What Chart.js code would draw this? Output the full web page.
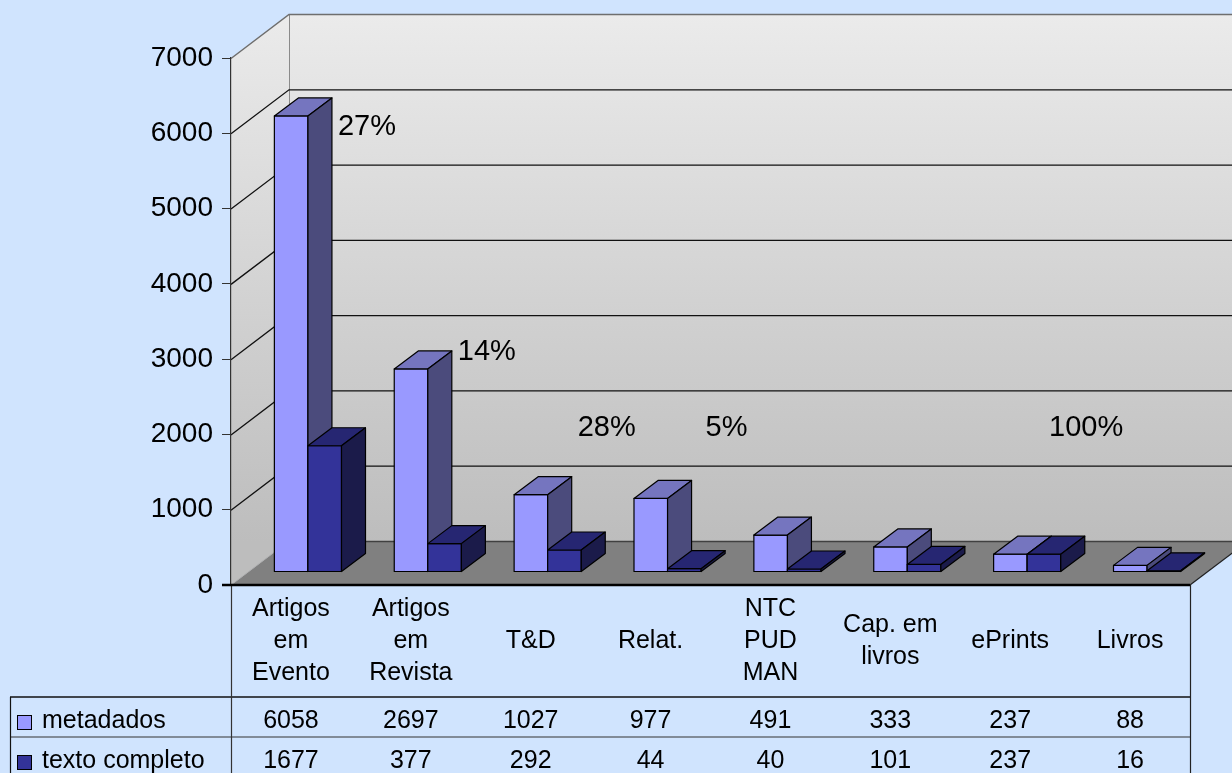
<!DOCTYPE html>
<html>
<head>
<meta charset="utf-8">
<script src="https://cdn.jsdelivr.net/npm/chart.js"></script>
<style>
  html, body { margin: 0; padding: 0; background: #D0E4FE; }
</style>
</head>
<body>
<canvas id="chartBars" width="1232" height="773"></canvas>
<script>
// data
const categories = [["Artigos", "em", "Evento"], ["Artigos", "em", "Revista"], ["T&D"], ["Relat."],
                    ["NTC", "PUD", "MAN"], ["Cap. em", "livros"], ["ePrints"], ["Livros"]];
const metadados = [6058, 2697, 1027, 977, 491, 333, 237, 88];
const textoCompleto = [1677, 377, 292, 44, 40, 101, 237, 16];
const seriesNames = ["metadados", "texto completo"];
const yTicks = [0, 1000, 2000, 3000, 4000, 5000, 6000, 7000];
const pctLabels = ["27%", "14%", "28%", "5%", "", "", "100%", ""];
const pctLevels = [6080, 3095, 2080, 2080, 0, 0, 2080, 0];

const FONT = '"Liberation Sans", Arial, sans-serif';
const BG = "#D0E4FE";
// 3d offsets (px)
const WALL_DX = 58, WALL_DY = -44;
const SHIFT_X = 17, SHIFT_Y = -13;
const BAR_DX = 24, BAR_DY = -18;
const faceColors = [
  { front: "#9999FF", top: "#7575BF", side: "#4B4B7C" },
  { front: "#333399", top: "#262672", side: "#1B1B4A" }
];

function poly(ctx, pts, fill, stroke) {
  ctx.beginPath();
  ctx.moveTo(pts[0][0], pts[0][1]);
  for (let k = 1; k < pts.length; k++) ctx.lineTo(pts[k][0], pts[k][1]);
  ctx.closePath();
  if (fill) { ctx.fillStyle = fill; ctx.fill(); }
  if (stroke) { ctx.strokeStyle = stroke; ctx.stroke(); }
}

function line(ctx, x0, y0, x1, y1, color, w) {
  ctx.beginPath();
  ctx.moveTo(x0, y0);
  ctx.lineTo(x1, y1);
  ctx.strokeStyle = color;
  ctx.lineWidth = w;
  ctx.stroke();
}

const walls = {
  id: "walls",
  beforeDraw(chart) {
    const { ctx, chartArea: a, scales: { y } } = chart;
    const L = a.left, R = a.right, T = a.top, B = a.bottom;
    ctx.save();
    ctx.fillStyle = BG;
    ctx.fillRect(0, 0, chart.width, chart.height);

    const g = ctx.createLinearGradient(0, T + WALL_DY, 0, B + WALL_DY);
    g.addColorStop(0, "#EBEBEB");
    g.addColorStop(1, "#BDBDBD");
    // back wall
    ctx.fillStyle = g;
    ctx.fillRect(L + WALL_DX, T + WALL_DY, chart.width, B - T);
    // side wall
    poly(ctx, [[L, T], [L + WALL_DX, T + WALL_DY], [L + WALL_DX, B + WALL_DY], [L, B]], g);

    line(ctx, L + WALL_DX + 0.5, T + WALL_DY, L + WALL_DX + 0.5, B + WALL_DY, "#8A8A8A", 1);
    // gridlines
    yTicks.forEach(v => {
      const py = y.getPixelForValue(v);
      if (v === 0) return;
      const top = v === yTicks[yTicks.length - 1];
      ctx.lineWidth = top ? 1.5 : 1.3;
      ctx.beginPath();
      ctx.moveTo(L, py + 0.5);
      ctx.lineTo(L + WALL_DX, py + WALL_DY + 0.5);
      ctx.lineTo(chart.width, py + WALL_DY + 0.5);
      ctx.strokeStyle = top ? "#6E6E6E" : "#111";
      ctx.stroke();
    });

    // floor
    poly(ctx, [[L, B], [R, B], [R + WALL_DX, B + WALL_DY], [L + WALL_DX, B + WALL_DY]], "#808080");
    line(ctx, L + WALL_DX, B + WALL_DY + 0.5, chart.width, B + WALL_DY + 0.5, "#404040", 1.5);
    line(ctx, L, B, L + WALL_DX, B + WALL_DY, "#B0B0B0", 1);
    line(ctx, R, B, R + WALL_DX, B + WALL_DY, "#202020", 1.2);
    ctx.restore();
  }
};

const bars3d = {
  id: "bars3d",
  afterDatasetsDraw(chart) {
    const ctx = chart.ctx;
    const metas = [0, 1].map(i => chart.getDatasetMeta(i));
    ctx.save();
    ctx.lineWidth = 1.2;
    ctx.lineJoin = "round";
    for (let i = 0; i < categories.length; i++) {
      metas.forEach((meta, d) => {
        const p = meta.data[i].getProps(["x", "y", "base", "width"], true);
        const x0 = p.x - p.width / 2 + SHIFT_X, x1 = p.x + p.width / 2 + SHIFT_X;
        const t = p.y + SHIFT_Y, b = p.base + SHIFT_Y;
        const c = faceColors[d];
        poly(ctx, [[x0, t], [x1, t], [x1, b], [x0, b]], c.front, "#000");
        poly(ctx, [[x0, t], [x1, t], [x1 + BAR_DX, t + BAR_DY], [x0 + BAR_DX, t + BAR_DY]], c.top, "#000");
        poly(ctx, [[x1, t], [x1 + BAR_DX, t + BAR_DY], [x1 + BAR_DX, b + BAR_DY], [x1, b]], c.side, "#000");
      });
    }
    // percentage notes
    const { x, y } = chart.scales;
    ctx.fillStyle = "#000";
    ctx.font = "29px " + FONT;
    ctx.textAlign = "center";
    ctx.textBaseline = "middle";
    pctLabels.forEach((s, i) => {
      if (!s) return;
      ctx.fillText(s, x.getPixelForValue(i) + 76, y.getPixelForValue(pctLevels[i]));
    });
    ctx.restore();
  }
};

const dataTable = {
  id: "dataTable",
  afterDraw(chart) {
    const { ctx, chartArea: a, scales: { x } } = chart;
    const L = a.left, R = a.right, B = a.bottom;
    const rowTop = 697, rowMid = 737, H = chart.height;
    ctx.save();
    // lines
    line(ctx, 10, rowTop, R, rowTop, "#111", 1.5);
    line(ctx, 10, rowMid, R, rowMid, "#333", 1.2);
    line(ctx, 10.5, rowTop, 10.5, H, "#111", 1.2);
    line(ctx, L + 0.5, B, L + 0.5, H, "#333", 1.2);
    line(ctx, R + 0.5, B, R + 0.5, H, "#222", 1.2);
    line(ctx, L - 9, B, R, B, "#000", 2.5);

    ctx.fillStyle = "#000";
    ctx.font = "25px " + FONT;
    ctx.textAlign = "center";
    ctx.textBaseline = "middle";
    const lh = 32;
    categories.forEach((lines, i) => {
      const cx = x.getPixelForValue(i);
      const y0 = (B + rowTop) / 2 - (lines.length - 1) * lh / 2;
      lines.forEach((s, k) => ctx.fillText(s, cx, y0 + k * lh));
      ctx.fillText(String(metadados[i]), cx, 721);
      ctx.fillText(String(textoCompleto[i]), cx, 761);
    });

    // series keys
    ctx.textAlign = "left";
    [721, 761].forEach((ty, d) => {
      ctx.fillStyle = faceColors[d].front;
      ctx.fillRect(17, ty - 6, 15, 15);
      ctx.strokeStyle = "#000";
      ctx.lineWidth = 1;
      ctx.strokeRect(17.5, ty - 5.5, 14, 14);
      ctx.fillStyle = "#000";
      ctx.fillText(seriesNames[d], 42, ty);
    });
    ctx.restore();
  }
};

new Chart(document.getElementById("chartBars"), {
  type: "bar",
  data: {
    labels: categories,
    datasets: [
      { label: seriesNames[0], data: metadados, backgroundColor: "rgba(0,0,0,0)" },
      { label: seriesNames[1], data: textoCompleto, backgroundColor: "rgba(0,0,0,0)" }
    ]
  },
  options: {
    responsive: false,
    animation: false,
    events: [],
    layout: { padding: { left: 0, top: 58, right: 42, bottom: 188 } },
    datasets: { bar: { categoryPercentage: 0.56, barPercentage: 1.0 } },
    plugins: { legend: { display: false }, tooltip: { enabled: false } },
    scales: {
      x: { display: false },
      y: {
        min: 0, max: 7000,
        afterFit: s => { s.width = 231; },
        afterBuildTicks: s => { s.ticks = yTicks.map(v => ({ value: v })); },
        ticks: { color: "#000", padding: 9, font: { family: FONT, size: 28 }, callback: v => String(v) },
        grid: { drawOnChartArea: false, drawTicks: true, tickLength: 9, tickColor: "#333", lineWidth: 1 },
        border: { display: true, color: "#333", width: 1.2 }
      }
    }
  },
  plugins: [walls, bars3d, dataTable]
});
</script>
</body>
</html>
